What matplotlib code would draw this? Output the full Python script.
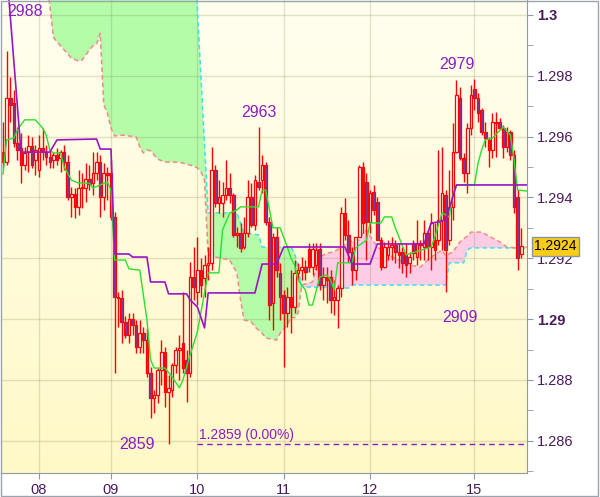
import numpy as np
import matplotlib.pyplot as plt
from matplotlib.patches import Polygon, Rectangle

plt.rcParams['font.family'] = ['Liberation Sans', 'DejaVu Sans']

# hourly candles, index 0..144
opens = [1.29549, 1.29516, 1.29727, 1.29710, 1.29579, 1.29563, 1.29507, 1.29549, 1.29569, 1.29523,
         1.29490, 1.29563, 1.29549, 1.29533, 1.29523, 1.29540, 1.29530, 1.29549, 1.29516, 1.29401,
         1.29411, 1.29369, 1.29431, 1.29431, 1.29461, 1.29447, 1.29480, 1.29516, 1.29401, 1.29480,
         1.29480, 1.29336, 1.29073, 1.29069, 1.28991, 1.28948, 1.29001, 1.28981, 1.28908, 1.28954,
         1.28931, 1.28823, 1.28741, 1.28750, 1.28833, 1.28892, 1.28760, 1.28767, 1.28849, 1.28898,
         1.28922, 1.28866, 1.28823, 1.29138, 1.29089, 1.29161, 1.29135, 1.29178, 1.29185, 1.29490,
         1.29382, 1.29382, 1.29408, 1.29431, 1.29408, 1.29277, 1.29283, 1.29237, 1.29283, 1.29401,
         1.29309, 1.29451, 1.29457, 1.29507, 1.29319, 1.29053, 1.29270, 1.29152, 1.29079, 1.29020,
         1.29073, 1.29040, 1.29152, 1.29161, 1.29171, 1.29231, 1.29171, 1.29178, 1.29231, 1.29112,
         1.29138, 1.29138, 1.29063, 1.29063, 1.29102, 1.29349, 1.29277, 1.29221, 1.29161, 1.29270,
         1.29500, 1.29451, 1.29319, 1.29418, 1.29385, 1.29260, 1.29171, 1.29211, 1.29237, 1.29244,
         1.29221, 1.29221, 1.29211, 1.29185, 1.29250, 1.29204, 1.29250, 1.29237, 1.29283, 1.29237,
         1.29260, 1.29260, 1.29326, 1.29408, 1.29260, 1.29369, 1.29549, 1.29727, 1.29530, 1.29480,
         1.29628, 1.29756, 1.29727, 1.29687, 1.29615, 1.29589, 1.29556, 1.29648, 1.29648, 1.29628,
         1.29566, 1.29615, 1.29540, 1.29401, 1.29214]
highs = [1.29648, 1.29880, 1.29796, 1.29753, 1.29632, 1.29612, 1.29566, 1.29605, 1.29599, 1.29572,
         1.29605, 1.29628, 1.29572, 1.29556, 1.29549, 1.29563, 1.29556, 1.29572, 1.29540, 1.29434,
         1.29431, 1.29490, 1.29480, 1.29513, 1.29507, 1.29549, 1.29549, 1.29540, 1.29513, 1.29500,
         1.29523, 1.29352, 1.29089, 1.29096, 1.29010, 1.29020, 1.29020, 1.28997, 1.28997, 1.28974,
         1.28971, 1.28843, 1.28767, 1.28839, 1.28931, 1.28908, 1.28816, 1.28856, 1.28908, 1.28948,
         1.29089, 1.28898, 1.29188, 1.29237, 1.29270, 1.29201, 1.29211, 1.29237, 1.29566, 1.29507,
         1.29457, 1.29451, 1.29523, 1.29480, 1.29415, 1.29303, 1.29316, 1.29336, 1.29457, 1.29447,
         1.29474, 1.29630, 1.29540, 1.29516, 1.29336, 1.29283, 1.29303, 1.29185, 1.29096, 1.29106,
         1.29161, 1.29194, 1.29185, 1.29204, 1.29194, 1.29250, 1.29250, 1.29250, 1.29250, 1.29171,
         1.29171, 1.29161, 1.29129, 1.29112, 1.29369, 1.29398, 1.29326, 1.29237, 1.29270, 1.29507,
         1.29516, 1.29480, 1.29424, 1.29441, 1.29401, 1.29270, 1.29254, 1.29260, 1.29270, 1.29260,
         1.29250, 1.29237, 1.29250, 1.29221, 1.29260, 1.29326, 1.29260, 1.29326, 1.29293, 1.29349,
         1.29316, 1.29556, 1.29566, 1.29424, 1.29490, 1.29645, 1.29786, 1.29763, 1.29546, 1.29645,
         1.29770, 1.29790, 1.29743, 1.29694, 1.29648, 1.29599, 1.29678, 1.29681, 1.29661, 1.29638,
         1.29632, 1.29622, 1.29556, 1.29424, 1.29300]
lows = [1.29500, 1.29507, 1.29648, 1.29566, 1.29523, 1.29447, 1.29490, 1.29484, 1.29497, 1.29474,
        1.29467, 1.29523, 1.29507, 1.29497, 1.29497, 1.29507, 1.29484, 1.29490, 1.29392, 1.29336,
        1.29333, 1.29342, 1.29365, 1.29385, 1.29424, 1.29408, 1.29457, 1.29336, 1.29359, 1.29392,
        1.29326, 1.28823, 1.28974, 1.28922, 1.28938, 1.28922, 1.28948, 1.28889, 1.28889, 1.28889,
        1.28810, 1.28675, 1.28691, 1.28724, 1.28784, 1.28711, 1.28590, 1.28744, 1.28823, 1.28800,
        1.28823, 1.28728, 1.28810, 1.29063, 1.29046, 1.29073, 1.29073, 1.29129, 1.29161, 1.29369,
        1.29349, 1.29336, 1.29392, 1.29382, 1.29270, 1.29237, 1.29221, 1.29230, 1.29270, 1.29303,
        1.29293, 1.29424, 1.29415, 1.29309, 1.28997, 1.28964, 1.29138, 1.28997, 1.28843, 1.28974,
        1.28954, 1.29020, 1.29129, 1.29129, 1.29129, 1.29155, 1.29145, 1.29161, 1.29096, 1.29063,
        1.29053, 1.29020, 1.29014, 1.28971, 1.29073, 1.29260, 1.29188, 1.29112, 1.29129, 1.29270,
        1.29283, 1.29194, 1.29283, 1.29342, 1.29260, 1.29161, 1.29168, 1.29194, 1.29194, 1.29185,
        1.29168, 1.29152, 1.29138, 1.29152, 1.29194, 1.29178, 1.29194, 1.29194, 1.29194, 1.29161,
        1.29194, 1.29244, 1.29227, 1.29090, 1.29244, 1.29326, 1.29546, 1.29523, 1.29451, 1.29415,
        1.29605, 1.29687, 1.29648, 1.29605, 1.29566, 1.29500, 1.29530, 1.29533, 1.29622, 1.29530,
        1.29549, 1.29523, 1.29349, 1.29161, 1.29201]
closes = [1.29516, 1.29727, 1.29704, 1.29579, 1.29556, 1.29507, 1.29546, 1.29569, 1.29507, 1.29556,
          1.29563, 1.29549, 1.29533, 1.29516, 1.29540, 1.29523, 1.29549, 1.29516, 1.29401, 1.29411,
          1.29369, 1.29431, 1.29434, 1.29461, 1.29444, 1.29480, 1.29516, 1.29401, 1.29480, 1.29474,
          1.29336, 1.29073, 1.29069, 1.28991, 1.28948, 1.29001, 1.28981, 1.28908, 1.28954, 1.28931,
          1.28823, 1.28741, 1.28750, 1.28833, 1.28892, 1.28760, 1.28774, 1.28849, 1.28898, 1.28905,
          1.28839, 1.28823, 1.29138, 1.29106, 1.29161, 1.29112, 1.29178, 1.29185, 1.29490, 1.29382,
          1.29401, 1.29408, 1.29431, 1.29408, 1.29277, 1.29283, 1.29234, 1.29283, 1.29401, 1.29309,
          1.29457, 1.29434, 1.29507, 1.29319, 1.29046, 1.29270, 1.29161, 1.29073, 1.29020, 1.29073,
          1.29040, 1.29152, 1.29161, 1.29171, 1.29155, 1.29171, 1.29231, 1.29227, 1.29112, 1.29138,
          1.29129, 1.29063, 1.29073, 1.29102, 1.29349, 1.29277, 1.29221, 1.29161, 1.29270, 1.29500,
          1.29316, 1.29319, 1.29415, 1.29359, 1.29260, 1.29171, 1.29237, 1.29237, 1.29244, 1.29221,
          1.29211, 1.29185, 1.29178, 1.29204, 1.29217, 1.29250, 1.29244, 1.29283, 1.29237, 1.29316,
          1.29227, 1.29326, 1.29415, 1.29227, 1.29369, 1.29549, 1.29737, 1.29530, 1.29480, 1.29628,
          1.29737, 1.29727, 1.29678, 1.29615, 1.29595, 1.29556, 1.29648, 1.29645, 1.29628, 1.29566,
          1.29615, 1.29540, 1.29369, 1.29201, 1.29240]

# ichimoku lines as (candle index, price) vertices
tenkan_pts = [(0, 1.29477), (1, 1.29589), (3, 1.29595), (4, 1.29622), (6, 1.29655), (9, 1.29655),
              (11, 1.29628), (12, 1.29605), (13, 1.29556), (14, 1.29546), (16, 1.29546), (17, 1.29500),
              (19, 1.29457), (21, 1.29447), (24, 1.29447), (25, 1.29431), (27, 1.29441), (29, 1.29451),
              (30, 1.29424), (31, 1.29194), (34, 1.29194), (35, 1.29165), (38, 1.29161), (40, 1.28997),
              (41, 1.28866), (42, 1.28839), (45, 1.28839), (47, 1.28810), (49, 1.28774), (50, 1.28800),
              (52, 1.28882), (54, 1.28958), (57, 1.29152), (60, 1.29152), (61, 1.29293), (63, 1.29349),
              (65, 1.29359), (66, 1.29369), (71, 1.29369), (72, 1.29424), (73, 1.29424), (75, 1.29300),
              (77, 1.29300), (79, 1.29237), (80, 1.29201), (81, 1.29178), (82, 1.29129), (84, 1.29096),
              (85, 1.29046), (86, 1.29046), (88, 1.29138), (90, 1.29145), (91, 1.29129), (92, 1.29096),
              (93, 1.29185), (97, 1.29185), (98, 1.29234), (101, 1.29260), (102, 1.29316), (105, 1.29316),
              (106, 1.29336), (108, 1.29336), (109, 1.29300), (112, 1.29211), (119, 1.29237), (120, 1.29270),
              (122, 1.29349), (124, 1.29336), (125, 1.29408), (126, 1.29441), (131, 1.29441), (132, 1.29513),
              (133, 1.29556), (134, 1.29589), (136, 1.29595), (139, 1.29632), (141, 1.29605), (142, 1.29523),
              (143, 1.29424), (145.6, 1.29421)]
kijun_pts = [(1, 1.30148), (5, 1.29549), (13, 1.29549), (15, 1.29589), (26, 1.29592), (27, 1.29559),
             (30, 1.29559), (31, 1.29214), (35, 1.29214), (36, 1.29204), (40, 1.29204), (41, 1.29122),
             (45, 1.29122), (46, 1.29083), (51, 1.29083), (52, 1.29063), (54, 1.29040), (56, 1.28971),
             (57, 1.29086), (70, 1.29086), (72, 1.29181), (76, 1.29181), (78, 1.29237), (95, 1.29237),
             (97, 1.29181), (102, 1.29181), (104, 1.29247), (117, 1.29247), (118, 1.29283), (119, 1.29316),
             (121, 1.29319), (123, 1.29326), (126, 1.29441), (145.6, 1.29441)]
span_a_pts = [(10, 1.30246), (53, 1.30246), (57, 1.29349), (65, 1.29349), (66, 1.29316), (67, 1.29283),
              (71, 1.29277), (72, 1.29237), (80, 1.29237), (81, 1.29217), (82, 1.29171), (83, 1.29106),
              (96, 1.29102), (97, 1.29112), (123, 1.29112), (124, 1.29185), (128, 1.29185), (129, 1.29227),
              (130, 1.29234), (145.6, 1.29234)]
span_b_pts = [(10, 1.30180), (12, 1.30115), (13, 1.30033), (14, 1.29927), (15, 1.29911), (17, 1.29885),
              (19, 1.29858), (21, 1.29848), (22, 1.29852), (23, 1.29868), (24, 1.29885), (25, 1.29898),
              (26, 1.29904), (27, 1.29940), (28, 1.29704), (29, 1.29678), (30, 1.29628), (31, 1.29602),
              (33, 1.29605), (37, 1.29599), (38, 1.29566), (39, 1.29546), (40, 1.29556), (41, 1.29553),
              (43, 1.29526), (45, 1.29516), (49, 1.29516), (53, 1.29503), (54, 1.29497), (55, 1.29484),
              (56, 1.29457), (57, 1.29211), (59, 1.29204), (63, 1.29194), (65, 1.29152), (66, 1.29063),
              (67, 1.28997), (69, 1.28991), (70, 1.28974), (72, 1.28954), (73, 1.28938), (76, 1.28931),
              (77, 1.28954), (79, 1.28981), (80, 1.29007), (81, 1.29004), (82, 1.29020), (83, 1.29112),
              (86, 1.29122), (87, 1.29171), (88, 1.29204), (90, 1.29217), (92, 1.29221), (94, 1.29237),
              (96, 1.29254), (99, 1.29260), (100, 1.29283), (101, 1.29293), (102, 1.29273), (104, 1.29237),
              (107, 1.29211), (110, 1.29194), (113, 1.29178), (116, 1.29171), (118, 1.29194), (119, 1.29204),
              (122, 1.29227), (123, 1.29208), (125, 1.29221), (126, 1.29237), (127, 1.29254), (129, 1.29273),
              (130, 1.29286), (133, 1.29286), (135, 1.29273), (138, 1.29254), (140, 1.29237), (142, 1.29234),
              (145.6, 1.29237)]
cloud_cross = 83

day_idx = [10, 30, 54, 78, 102, 131]
day_labels = ['08', '09', '10', '11', '12', '15']
ytick_vals = [1.286, 1.288, 1.29, 1.292, 1.294, 1.296, 1.298, 1.3]
ytick_labels = ['1.286', '1.288', '1.29', '1.292', '1.294', '1.296', '1.298', '1.3']

lab_color = '#8B1CC6'
tick_color = '#4B1B5E'
spine_color = '#8E9AA6'

fig = plt.figure(figsize=(6.0, 4.97), dpi=100)
ax = fig.add_axes([1 / 600, 24 / 497, 526 / 600, 473 / 497])
x0, x1 = -0.56, 145.6
y0, y1 = 1.28494, 1.30049

# background gradient
g = np.linspace(0, 1, 256)[:, None, None]
top = np.array([1.0, 1.0, 0.94])
bot = np.array([1.0, 0.975, 0.78])
ax.imshow(top + (bot - top) * g, extent=[x0, x1, y0, y1], origin='upper', aspect='auto', zorder=0)

# cloud
a_i, a_v = zip(*span_a_pts)
b_i, b_v = zip(*span_b_pts)
green = [p for p in span_a_pts if p[0] <= cloud_cross] + [p for p in span_b_pts if p[0] <= cloud_cross][::-1]
pink = [p for p in span_b_pts if p[0] >= cloud_cross] + [p for p in span_a_pts if p[0] >= cloud_cross][::-1]
ax.add_patch(Polygon(green, closed=True, fc='#B4FCA8', ec='none', zorder=1))
ax.add_patch(Polygon(pink, closed=True, fc='#FFCCE6', ec='none', zorder=1))

# grid
for v in ytick_vals:
    ax.axhline(v, color=(0.55, 0.55, 0.35), alpha=0.25, lw=1, zorder=1.5)
for d in day_idx:
    ax.axvline(d, color=(0.55, 0.55, 0.35), alpha=0.25, lw=1, zorder=1.5)

ax.plot(a_i, a_v, color='#3FE0F0', lw=1.1, ls=(0, (3, 2)), zorder=2)
ax.plot(b_i, b_v, color='#F08A8A', lw=1.1, ls=(0, (3, 2)), zorder=2)

# candles
idx = np.arange(len(closes))
o = np.array(opens)
c = np.array(closes)
ax.vlines(idx, lows, highs, color='#FF0000', lw=1, zorder=3)
face = ['#FFFFF4' if cc >= oo else '#7040A8' for oo, cc in zip(o, c)]
ax.bar(idx, np.abs(c - o), bottom=np.minimum(o, c), width=0.72, color=face,
       edgecolor='#FF0000', linewidth=0.9, zorder=3.5)

t_i, t_v = zip(*tenkan_pts)
k_i, k_v = zip(*kijun_pts)
ax.plot(t_i, t_v, color='#2BE02B', lw=1.0, zorder=4)
ax.plot(k_i, k_v, color='#9A14C8', lw=1.2, zorder=4)

# swing labels
def swing_label(i, price, dx, dy):
    ax.annotate(f'{round(price * 1e4) % 10000}', xy=(i, price), xytext=(dx, dy),
                textcoords='offset pixels', ha='center', va='center', color=lab_color,
                fontsize=11.5, zorder=6)

swing_label(1, highs[1], 18, 40)
swing_label(71, highs[71], 0, 15)
swing_label(131, highs[131], -18, 14)
swing_label(123, lows[123], 14, -26)
swing_label(46, lows[46], -32, -1)

# lowest-low line
ax.hlines(lows[46], 54, x1, colors=lab_color, linestyles=(0, (4, 3)), lw=1, zorder=5)
ax.annotate(f'{lows[46]:.4f} (0.00%)', xy=(54, lows[46]), xytext=(2, 2), textcoords='offset pixels',
            ha='left', va='bottom', fontsize=10, color=lab_color, zorder=6)

# last price tag
ax.annotate(f'{closes[-1]:.4f}', xy=(1, closes[-1]), xycoords=('axes fraction', 'data'),
            xytext=(7, 0), textcoords='offset pixels', ha='left', va='center', fontsize=10,
            color='black', annotation_clip=False, zorder=10,
            bbox=dict(boxstyle='square,pad=0.18', fc='#F9CC1A', ec='#8896A4', lw=1))

ax.set_xlim(x0, x1)
ax.set_ylim(y0, y1)

ax.yaxis.tick_right()
ax.set_yticks(ytick_vals)
ax.set_yticklabels(ytick_labels)
ax.set_yticks(np.arange(1.285, 1.3, 0.002), minor=True)
for lbl in ax.get_yticklabels():
    if len(lbl.get_text()) <= 4:
        lbl.set_fontweight('bold')
ax.set_xticks(day_idx)
ax.set_xticklabels(day_labels)
ax.tick_params(axis='both', which='both', length=4, color=spine_color, labelcolor=tick_color,
               labelsize=10.5)
ax.tick_params(axis='y', pad=3)
ax.tick_params(axis='x', pad=3)

for s in ['top', 'left']:
    ax.spines[s].set_visible(False)
for s in ['right', 'bottom']:
    ax.spines[s].set_color(spine_color)

fig.patches.append(Rectangle((0.001, 0.002), 0.995, 0.996, transform=fig.transFigure,
                             fill=False, ec='#9AA4AE', lw=1))

fig.savefig('out.png', dpi=100)
